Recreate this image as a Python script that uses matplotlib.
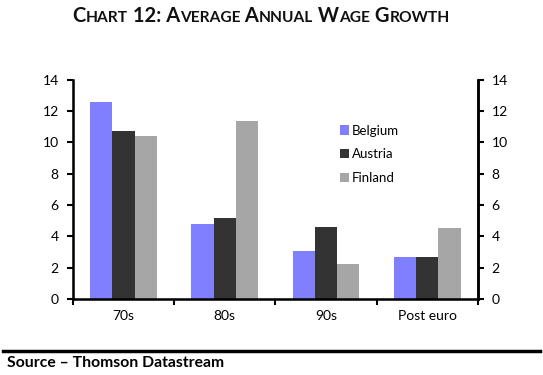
import numpy as np
import matplotlib.pyplot as plt
from matplotlib.lines import Line2D

plt.rcParams['font.family'] = ['Lato', 'DejaVu Sans']

categories = ['70s', '80s', '90s', 'Post euro']
belgium = [12.6, 4.8, 3.05, 2.67]
austria = [10.7, 5.2, 4.57, 2.67]
finland = [10.4, 11.4, 2.24, 4.5]
series = ['Belgium', 'Austria', 'Finland']
colors = ['#7f7fff', '#333333', '#a6a6a6']

fig = plt.figure(figsize=(5.43, 3.75), dpi=100)
ax = fig.add_axes([0.134, 0.203, 0.746, 0.584])

x = np.arange(len(categories))
w = 0.22
for i, (vals, c, name) in enumerate(zip([belgium, austria, finland], colors, series)):
    ax.bar(x + (i - 1) * w, vals, width=w, color=c, label=name)

ax.set_xlim(-0.5, len(categories) - 0.5)
ax.set_ylim(0, 14)
ax.set_yticks(range(0, 15, 2))
ax.set_xticks(x)
ax.set_xticklabels(categories, fontsize=10)
ax.set_xticks(np.arange(-0.5, len(categories), 1), minor=True)
ax.tick_params(axis='x', which='major', length=0, pad=8)
ax.tick_params(axis='x', which='minor', length=4, width=1.5, direction='out')
ax.tick_params(axis='y', length=4, width=1.5, labelsize=10, pad=6)
ax.spines['top'].set_visible(False)
for s in ['left', 'bottom', 'right']:
    ax.spines[s].set_linewidth(1.8)

ax2 = ax.twinx()
ax2.set_ylim(0, 14)
ax2.set_yticks(range(0, 15, 2))
ax2.tick_params(axis='y', length=4, width=1.5, labelsize=10, pad=6)
ax2.spines['top'].set_visible(False)
ax2.spines['right'].set_linewidth(1.8)

ax2.legend(*ax.get_legend_handles_labels(), loc='upper left',
           bbox_to_anchor=(0.63, 0.85), frameon=False, fontsize=9.5,
           handlelength=0.7, handleheight=0.7, handletextpad=0.2,
           labelspacing=0.9)

# title in small caps, built from pieces
parts = [('C', 14.5), ('HART', 11.2), (' 12: A', 14.5), ('VERAGE', 11.2), (' A', 14.5),
         ('NNUAL', 11.2), (' W', 14.5), ('AGE', 11.2), (' G', 14.5), ('ROWTH', 11.2)]
fig.canvas.draw()
r = fig.canvas.get_renderer()
widths = []
for txt, sz in parts:
    t = fig.text(0, 0, txt, fontsize=sz, fontweight='bold')
    widths.append(t.get_window_extent(r).width)
    t.remove()
total = sum(widths)
xpos = (543 * 0.481 - total / 2)
for (txt, sz), wd in zip(parts, widths):
    fig.text(xpos / 543, 0.94, txt, fontsize=sz, fontweight='bold',
             color='#111111', ha='left', va='baseline')
    xpos += wd

fig.add_artist(Line2D([0.006, 0.994], [0.064, 0.064], color='black', lw=2.5))
fig.text(0.012, 0.031, 'Source \u2013 Thomson Datastream', fontsize=11.3,
         fontweight='bold', ha='left', va='center')

fig.savefig('out.png', dpi=100)
